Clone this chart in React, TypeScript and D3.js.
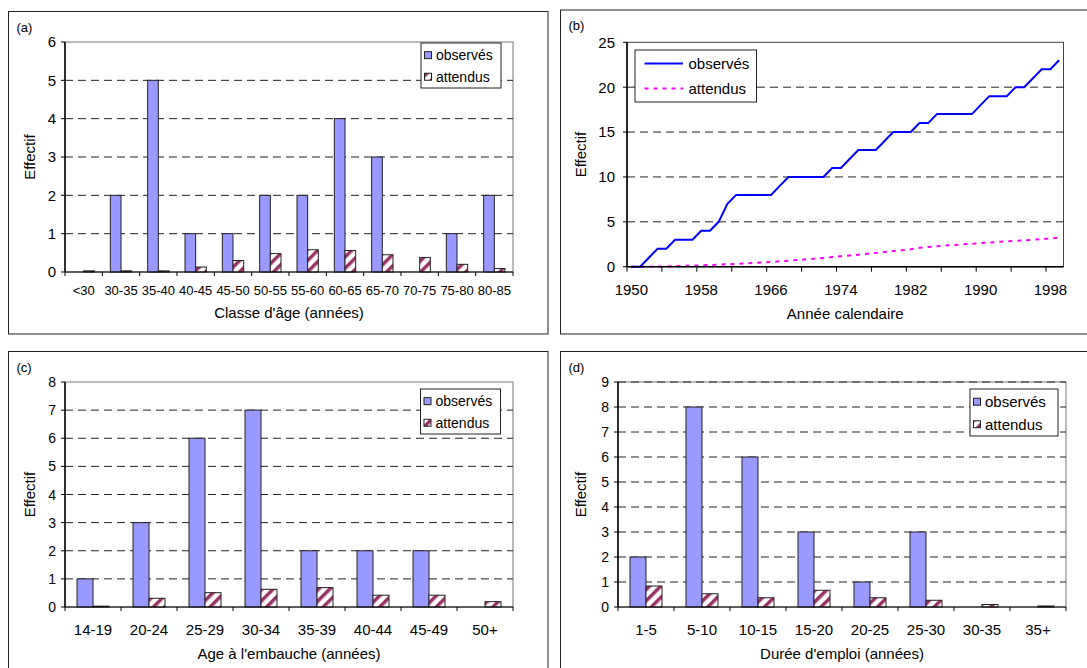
import React from "react";
import * as d3 from "d3";

const FONT = "'Liberation Sans', Arial, Helvetica, sans-serif";
const OBS_FILL = "#9999ff";
const EXP_STRIPE = "#993366";

// (a) age classes
const ageClasses = ["<30", "30-35", "35-40", "40-45", "45-50", "50-55", "55-60", "60-65", "65-70", "70-75", "75-80", "80-85"];
const ageObserved = [0, 2, 5, 1, 1, 2, 2, 4, 3, 0, 1, 2];
const ageExpected = [0.03, 0.03, 0.03, 0.13, 0.3, 0.48, 0.58, 0.56, 0.45, 0.38, 0.2, 0.09];

// (b) calendar years, cumulative counts
const years = [
  1950, 1951, 1952, 1953, 1954, 1955, 1956, 1957, 1958, 1959,
  1960, 1961, 1962, 1963, 1964, 1965, 1966, 1967, 1968, 1969,
  1970, 1971, 1972, 1973, 1974, 1975, 1976, 1977, 1978, 1979,
  1980, 1981, 1982, 1983, 1984, 1985, 1986, 1987, 1988, 1989,
  1990, 1991, 1992, 1993, 1994, 1995, 1996, 1997, 1998, 1999,
];
const cumObserved = [
  0, 0, 1, 2, 2, 3, 3, 3, 4, 4,
  5, 7, 8, 8, 8, 8, 8, 9, 10, 10,
  10, 10, 10, 11, 11, 12, 13, 13, 13, 14,
  15, 15, 15, 16, 16, 17, 17, 17, 17, 17,
  18, 19, 19, 19, 20, 20, 21, 22, 22, 23,
];
const cumExpected = [
  0, 0, 0, 0.02, 0.04, 0.06, 0.09, 0.12, 0.15, 0.19,
  0.23, 0.27, 0.31, 0.36, 0.41, 0.47, 0.53, 0.6, 0.67, 0.74,
  0.82, 0.9, 0.98, 1.07, 1.16, 1.25, 1.34, 1.44, 1.54, 1.64,
  1.74, 1.84, 1.94, 2.1, 2.2, 2.28, 2.35, 2.42, 2.49, 2.56,
  2.63, 2.7, 2.76, 2.82, 2.88, 2.94, 3.0, 3.07, 3.15, 3.25,
];
const yearLabels = [1950, 1958, 1966, 1974, 1982, 1990, 1998];

// (c) age at hiring
const hireClasses = ["14-19", "20-24", "25-29", "30-34", "35-39", "40-44", "45-49", "50+"];
const hireObserved = [1, 3, 6, 7, 2, 2, 2, 0];
const hireExpected = [0.03, 0.31, 0.51, 0.63, 0.69, 0.42, 0.42, 0.19];

// (d) employment duration
const durationClasses = ["1-5", "5-10", "10-15", "15-20", "20-25", "25-30", "30-35", "35+"];
const durationObserved = [2, 8, 6, 3, 1, 3, 0, 0];
const durationExpected = [0.84, 0.53, 0.37, 0.67, 0.37, 0.27, 0.1, 0.04];

type Box = { left: number; right: number; top: number; bottom: number };

function Frame({ x, y, w, h, label }: { x: number; y: number; w: number; h: number; label: string }) {
  return (
    <g>
      <rect x={x} y={y} width={w} height={h} fill="#fff" stroke="#222" strokeWidth={1} />
      <text x={x + 8} y={y + 20} fontSize={13} fontFamily={FONT}>
        {label}
      </text>
    </g>
  );
}

function BarLegend({ x, y, w, h, fs }: { x: number; y: number; w: number; h: number; fs: number }) {
  const r1 = y + h * 0.27;
  const r2 = y + h * 0.75;
  return (
    <g fontFamily={FONT} fontSize={fs}>
      <rect x={x} y={y} width={w} height={h} fill="#fff" stroke="#222" />
      <rect x={x + 3.5} y={r1 - 3.5} width={7} height={7} fill={OBS_FILL} stroke="#222" />
      <rect x={x + 3.5} y={r2 - 3.5} width={7} height={7} fill="url(#stripes)" stroke="#222" />
      <text x={x + 15} y={r1} dy="0.36em">observés</text>
      <text x={x + 15} y={r2} dy="0.36em">attendus</text>
    </g>
  );
}

type BarPanelProps = {
  label: string;
  frame: { x: number; y: number; w: number; h: number };
  plot: Box;
  categories: string[];
  observed: number[];
  expected: number[];
  yMax: number;
  title: string;
  yFont: number;
  xFont: number;
  titleFont: number;
  xLabelY: number;
  titleY: number;
  yTitleX: number;
  legend: { x: number; y: number; w: number; h: number; fs: number };
  dashedTop?: boolean;
};

function BarPanel(p: BarPanelProps) {
  const x = d3.scaleBand<string>().domain(p.categories).range([p.plot.left, p.plot.right]);
  const y = d3.scaleLinear().domain([0, p.yMax]).range([p.plot.bottom, p.plot.top]);
  const bw = x.bandwidth();
  const w = bw / 3.5;
  const ticks = y.ticks(p.yMax);
  const { left, right, top, bottom } = p.plot;
  return (
    <g fontFamily={FONT}>
      <Frame {...p.frame} label={p.label} />
      <rect x={left} y={top} width={right - left} height={bottom - top} fill="none" stroke="#777" />
      {ticks
        .filter((t) => t > 0 && (t < p.yMax || p.dashedTop))
        .map((t) => (
          <line key={t} x1={left} x2={right} y1={y(t)} y2={y(t)} stroke="#222" strokeDasharray="8,5" />
        ))}
      {p.categories.map((c, i) => {
        const x0 = x(c)!;
        const o = p.observed[i];
        const e = p.expected[i];
        return (
          <g key={c}>
            {o > 0 && (
              <rect x={x0 + 0.75 * w} y={y(o)} width={w} height={y(0) - y(o)} fill={OBS_FILL} stroke="#222" strokeWidth={1} />
            )}
            {e > 0 && (
              <rect x={x0 + 1.75 * w} y={y(e)} width={w} height={y(0) - y(e)} fill="url(#stripes)" stroke="#222" strokeWidth={1} />
            )}
          </g>
        );
      })}
      <line x1={left} x2={right} y1={bottom} y2={bottom} stroke="#000" />
      <line x1={left} x2={left} y1={top} y2={bottom} stroke="#000" strokeWidth={1.5} />
      {ticks.map((t) => (
        <g key={t}>
          <line x1={left - 4} x2={left} y1={y(t)} y2={y(t)} stroke="#000" />
          <text x={left - 9} y={y(t)} dy="0.36em" textAnchor="end" fontSize={p.yFont}>
            {t}
          </text>
        </g>
      ))}
      {p.categories.map((c) => (
        <g key={c}>
          <line x1={x(c)!} x2={x(c)!} y1={bottom} y2={bottom + 4} stroke="#000" />
          <text x={x(c)! + bw / 2} y={p.xLabelY} dy="0.36em" textAnchor="middle" fontSize={p.xFont}>
            {c}
          </text>
        </g>
      ))}
      <line x1={right} x2={right} y1={bottom} y2={bottom + 4} stroke="#000" />
      <text x={(left + right) / 2} y={p.titleY} dy="0.36em" textAnchor="middle" fontSize={p.titleFont}>
        {p.title}
      </text>
      <text
        transform={`translate(${p.yTitleX},${(top + bottom) / 2}) rotate(-90)`}
        dy="0.36em"
        textAnchor="middle"
        fontSize={p.titleFont}
      >
        Effectif
      </text>
      <BarLegend {...p.legend} />
    </g>
  );
}

function LinePanel() {
  const plot: Box = { left: 627, right: 1063.5, top: 42.3, bottom: 266.7 };
  const { left, right, top, bottom } = plot;
  const x = d3.scaleBand<number>().domain(years).range([left, right]);
  const bw = x.bandwidth();
  const cx = (yr: number) => x(yr)! + bw / 2;
  const y = d3.scaleLinear().domain([0, 25]).range([bottom, top]);
  const yTicks = y.ticks(5);
  const seriesLine = d3
    .line<number>()
    .x((_, i) => cx(years[i]))
    .y((v) => y(v));
  const tickYears = years.filter((_, i) => i % 4 === 0);
  return (
    <g fontFamily={FONT}>
      <Frame x={560.5} y={10} w={540} h={324} label="(b)" />
      <rect x={left} y={top} width={right - left} height={bottom - top} fill="none" stroke="#444" />
      {yTicks
        .filter((t) => t > 0 && t < 25)
        .map((t) => (
          <line key={t} x1={left} x2={right} y1={y(t)} y2={y(t)} stroke="#222" strokeDasharray="8,5" />
        ))}
      <path d={seriesLine(cumExpected) ?? ""} fill="none" stroke="#ff00ff" strokeWidth={2} strokeDasharray="4,5" />
      <path d={seriesLine(cumObserved) ?? ""} fill="none" stroke="#0000ff" strokeWidth={2} />
      <line x1={left} x2={right} y1={bottom} y2={bottom} stroke="#000" strokeWidth={1.5} />
      <line x1={left} x2={left} y1={top} y2={bottom} stroke="#000" strokeWidth={1.5} />
      {yTicks.map((t) => (
        <g key={t}>
          <line x1={left - 4} x2={left} y1={y(t)} y2={y(t)} stroke="#000" />
          <text x={left - 12} y={y(t)} dy="0.36em" textAnchor="end" fontSize={15}>
            {t}
          </text>
        </g>
      ))}
      {tickYears.map((yr) => (
        <line key={yr} x1={x(yr)!} x2={x(yr)!} y1={bottom} y2={bottom + 5} stroke="#000" />
      ))}
      {yearLabels.map((yr) => (
        <text key={yr} x={cx(yr)} y={290} dy="0.36em" textAnchor="middle" fontSize={15}>
          {yr}
        </text>
      ))}
      <text x={(left + right) / 2} y={314} dy="0.36em" textAnchor="middle" fontSize={15}>
        Année calendaire
      </text>
      <text transform={`translate(581,${(top + bottom) / 2}) rotate(-90)`} dy="0.36em" textAnchor="middle" fontSize={15}>
        Effectif
      </text>
      <g fontSize={15}>
        <rect x={635} y={50} width={121.5} height={52} fill="#fff" stroke="#222" />
        <line x1={644.5} x2={683} y1={63.5} y2={63.5} stroke="#0000ff" strokeWidth={2} />
        <line x1={644.5} x2={683} y1={88.5} y2={88.5} stroke="#ff00ff" strokeWidth={2} strokeDasharray="4,5" />
        <text x={688.5} y={63.5} dy="0.36em">observés</text>
        <text x={688.5} y={88.5} dy="0.36em">attendus</text>
      </g>
    </g>
  );
}

export default function App() {
  return (
    <svg width={1087} height={668} style={{ position: "absolute", left: 0, top: 0, background: "#fff" }}>
      <defs>
        <pattern id="stripes" width={8} height={8} patternUnits="userSpaceOnUse" patternTransform="rotate(45)">
          <rect width={8} height={8} fill="#fff" />
          <rect width={3.5} height={8} fill={EXP_STRIPE} />
        </pattern>
      </defs>
      <rect width={1087} height={668} fill="#fff" />
      <BarPanel
        label="(a)"
        frame={{ x: 8.5, y: 11.5, w: 539.5, h: 322.5 }}
        plot={{ left: 65, right: 513, top: 42, bottom: 272 }}
        categories={ageClasses}
        observed={ageObserved}
        expected={ageExpected}
        yMax={6}
        title="Classe d'âge (années)"
        yFont={15}
        xFont={13}
        titleFont={15}
        xLabelY={290}
        titleY={313}
        yTitleX={29.5}
        legend={{ x: 421, y: 43, w: 80, h: 45, fs: 14 }}
      />
      <LinePanel />
      <BarPanel
        label="(c)"
        frame={{ x: 8.5, y: 351.5, w: 539.5, h: 330 }}
        plot={{ left: 65, right: 513, top: 382, bottom: 607 }}
        categories={hireClasses}
        observed={hireObserved}
        expected={hireExpected}
        yMax={8}
        title="Age à l'embauche (années)"
        yFont={14}
        xFont={15}
        titleFont={15}
        xLabelY={630}
        titleY={654}
        yTitleX={29.5}
        legend={{ x: 420.5, y: 389, w: 80, h: 45, fs: 14 }}
      />
      <BarPanel
        label="(d)"
        frame={{ x: 560.5, y: 351.5, w: 540, h: 330 }}
        plot={{ left: 618, right: 1066, top: 382, bottom: 607 }}
        categories={durationClasses}
        observed={durationObserved}
        expected={durationExpected}
        yMax={9}
        title="Durée d'emploi (années)"
        yFont={14}
        xFont={15}
        titleFont={15}
        xLabelY={630}
        titleY={654}
        yTitleX={581}
        legend={{ x: 970, y: 389, w: 88, h: 47, fs: 15 }}
        dashedTop
      />
    </svg>
  );
}
